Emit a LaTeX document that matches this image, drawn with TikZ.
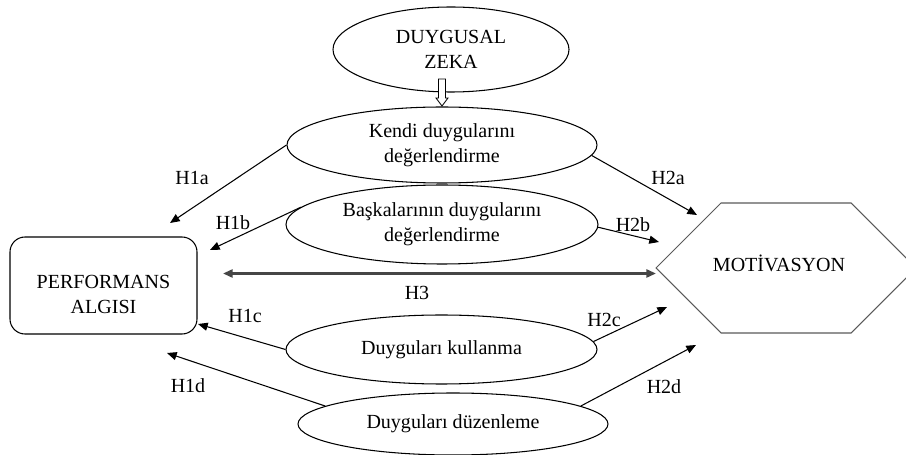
\documentclass[tikz,border=0pt]{standalone}
\usepackage{fontspec}
\setmainfont{Liberation Serif}
\usepackage{tikz}
\usetikzlibrary{shapes.geometric, arrows.meta, positioning, calc}

\begin{document}
\begin{tikzpicture}[
    font=\fontsize{11.4pt}{14.2pt}\selectfont,
    oval/.style={draw, ellipse, inner sep=0pt, align=center, line width=0.6pt},
    yol/.style={-{Triangle[length=5.5pt, width=4.6pt]}, line width=0.6pt},
    etiket/.style={inner sep=0pt}
  ]
\useasboundingbox (0,0) rectangle (18.12,-9.10);

% boyutlar
\node[oval, minimum width=4.72cm, minimum height=1.70cm] (zeka) at (9.02,-0.99) {DUYGUSAL\\ZEKA};
\node[oval, minimum width=6.20cm, minimum height=1.52cm] (kendi) at (8.84,-2.90) {Kendi duygularını\\değerlendirme};
\node[oval, minimum width=6.24cm, minimum height=1.58cm] (baska) at (8.84,-4.49) {Başkalarının duygularını\\değerlendirme};
\node[oval, minimum width=6.22cm, minimum height=1.38cm] (kullan) at (8.83,-6.99) {Duyguları kullanma};
\node[oval, minimum width=6.20cm, minimum height=1.24cm] (duzen) at (9.06,-8.48) {Duyguları düzenleme};

% sonuc kutulari
\node[draw, rounded corners=0.3cm, line width=0.6pt, minimum width=3.74cm, minimum height=1.94cm] (perf) at (2.07,-5.71) {};
\node[align=center] (perfyazi) at (2.07,-5.88) {PERFORMANS\\ALGISI};
\draw[gray!70!black, line width=0.6pt] (13.12,-5.36) -- (14.42,-4.06) -- (17.02,-4.06) -- (18.32,-5.36) -- (17.02,-6.66) -- (14.42,-6.66) -- cycle;
\node (motiv) at (15.58,-5.26) {MOTİVASYON};

% bos ok
\coordinate (okust) at (8.84,-1.58);
\draw[line width=0.5pt, fill=white] (okust) ++(-0.07,0) -- ++(0,-0.38) -- ++(-0.05,0) -- ++(0.12,-0.16) -- ++(0.12,0.16) -- ++(-0.05,0) -- ++(0,0.38) -- cycle;

% ok uclari
\coordinate (u1a) at (3.40,-4.46);
\coordinate (u1b) at (4.20,-5.00);
\coordinate (u1c) at (3.96,-6.48);
\coordinate (u1d) at (3.34,-7.06);
\coordinate (u2a) at (13.94,-4.30);
\coordinate (u2b) at (13.18,-4.84);
\coordinate (u2c) at (13.34,-6.14);
\coordinate (u2d) at (13.92,-6.90);
\coordinate (h3sol) at (4.46,-5.47);
\coordinate (h3sag) at (13.12,-5.47);

\draw[yol] (kendi.west) -- (u1a);
\draw[yol] (baska.173) -- (u1b);
\draw[yol] (kullan.west) -- (u1c);
\draw[yol] (duzen.172) -- (u1d);
\draw[yol] (kendi.-4) -- (u2a);
\draw[yol] (baska.-1) -- (u2b);
\draw[yol] (kullan.3) -- (u2c);
\draw[yol] (duzen.8) -- (u2d);
\draw[{Triangle[length=5.5pt, width=4.6pt]}-{Triangle[length=5.5pt, width=4.6pt]}, gray!55!black, line width=1.3pt] (h3sol) -- (h3sag);

\node[etiket] (e1a) at (3.84,-3.56) {H1a};
\node[etiket] (e1b) at (4.66,-4.46) {H1b};
\node[etiket] (e1c) at (4.90,-6.32) {H1c};
\node[etiket] (e1d) at (3.76,-7.72) {H1d};
\node[etiket] (e2a) at (13.36,-3.56) {H2a};
\node[etiket] (e2b) at (12.66,-4.50) {H2b};
\node[etiket] (e2c) at (12.08,-6.40) {H2c};
\node[etiket] (e2d) at (13.28,-7.74) {H2d};
\node[etiket] (e3) at (8.34,-5.86) {H3};
\end{tikzpicture}
\end{document}
